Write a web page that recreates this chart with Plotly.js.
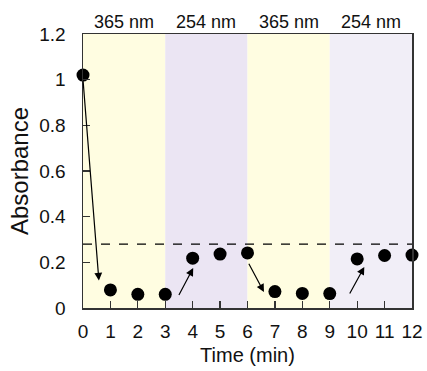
<!DOCTYPE html>
<html>
<head>
<meta charset="utf-8">
<script src="https://cdn.plot.ly/plotly-3.0.1.min.js"></script>
<style>html,body{margin:0;padding:0;background:#fff;}#chart{width:427px;height:371px;}</style>
</head>
<body>
<div id="chart"></div>
<script>
// Data
const timeMin = [0, 1, 2, 3, 4, 5, 6, 7, 8, 9, 10, 11, 12];
const absorbance = [1.02, 0.079, 0.06, 0.06, 0.218, 0.236, 0.241, 0.072, 0.064, 0.063, 0.215, 0.23, 0.232];
const thresholdLevel = 0.28;
const bandStarts = [0, 3, 6, 9];
const bandEnds = [3, 6, 9, 12];
const bandLabels = ["365 nm", "254 nm", "365 nm", "254 nm"];
const bandColors = ["#fffde1", "#ebe5f3", "#fffde1", "#f1eef7"];
// arrows: [startX, startY, endX, endY]
const arrowStartX = [0.0, 3.47, 6.02, 9.7];
const arrowStartY = [1.0, 0.05, 0.20, 0.057];
const arrowEndX = [0.58, 4.02, 6.6, 10.26];
const arrowEndY = [0.12, 0.175, 0.07, 0.18];

const shapes = bandStarts.map((s, i) => ({
  type: 'rect', xref: 'x', yref: 'paper', x0: s, x1: bandEnds[i], y0: 0, y1: 1,
  fillcolor: bandColors[i], line: {width: 0}, layer: 'below'
}));
shapes.push({
  type: 'line', xref: 'x', yref: 'y', x0: timeMin[0], x1: timeMin[timeMin.length - 1],
  y0: thresholdLevel, y1: thresholdLevel,
  line: {color: '#000', width: 1.2, dash: 'dash'}
});

const annotations = bandLabels.map((t, i) => ({
  text: t, xref: 'x', yref: 'paper', x: (bandStarts[i] + bandEnds[i]) / 2, y: 1,
  yanchor: 'bottom', yshift: 0, showarrow: false,
  font: {family: 'Liberation Sans, Arial, sans-serif', size: 18, color: '#111'}
}));
arrowStartX.forEach((sx, i) => {
  annotations.push({
    x: arrowEndX[i], y: arrowEndY[i], ax: sx, ay: arrowStartY[i],
    xref: 'x', yref: 'y', axref: 'x', ayref: 'y', text: '',
    showarrow: true, arrowhead: 2, arrowsize: 1.3, arrowwidth: 1.2, arrowcolor: '#000'
  });
});

const trace = {
  x: timeMin, y: absorbance, type: 'scatter', mode: 'markers',
  marker: {color: '#000', size: 13}, cliponaxis: false, hoverinfo: 'skip'
};

const font = {family: 'Liberation Sans, Arial, sans-serif', color: '#111'};
const layout = {
  width: 427, height: 371,
  margin: {l: 83, r: 15, t: 34, b: 63},
  paper_bgcolor: '#fff', plot_bgcolor: '#fff',
  showlegend: false,
  font: font,
  xaxis: {
    range: [0, 12], tickmode: 'linear', tick0: 0, dtick: 1,
    ticks: 'inside', ticklen: 7, tickwidth: 1.2, tickcolor: '#333',
    showline: true, linecolor: '#333', linewidth: 1.5, mirror: true,
    showgrid: false, zeroline: false,
    tickfont: {size: 19, family: font.family, color: '#111'},
    ticklabelstandoff: 6,
    title: {text: 'Time (min)', font: {size: 20, family: font.family, color: '#111'}, standoff: 6}
  },
  yaxis: {
    range: [0, 1.2], tickmode: 'linear', tick0: 0, dtick: 0.2,
    ticks: 'inside', ticklen: 7, tickwidth: 1.2, tickcolor: '#333',
    showline: true, linecolor: '#333', linewidth: 1.5, mirror: true,
    showgrid: false, zeroline: false,
    tickfont: {size: 19, family: font.family, color: '#111'},
    ticklabelstandoff: 12,
    title: {text: 'Absorbance', font: {size: 24, family: font.family, color: '#111'}, standoff: 4}
  },
  shapes: shapes,
  annotations: annotations
};

Plotly.newPlot('chart', [trace], layout, {displayModeBar: false, staticPlot: true});
</script>
</body>
</html>
